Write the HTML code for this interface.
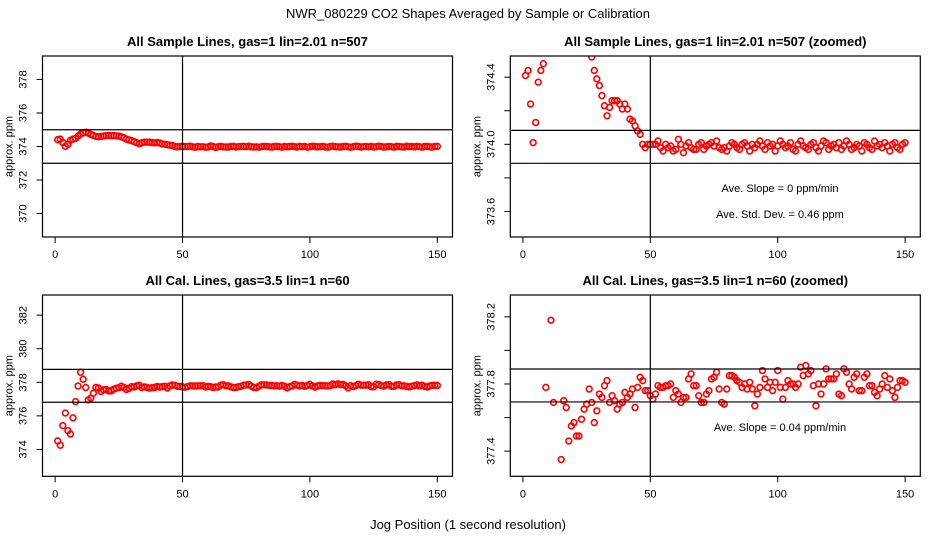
<!DOCTYPE html>
<html><head><meta charset="utf-8"><style>
html,body{margin:0;padding:0;background:#fff;width:936px;height:540px;overflow:hidden;}
svg{display:block;font-family:"Liberation Sans",sans-serif;}
</style></head><body>
<svg id="chart" width="936" height="540" viewBox="0 0 936 540" xmlns="http://www.w3.org/2000/svg">
<text x="468" y="18" text-anchor="middle" font-size="13">NWR_080229  CO2 Shapes Averaged by Sample or Calibration</text>
<text x="468" y="529" text-anchor="middle" font-size="13">Jog Position (1 second resolution)</text>
</svg>
<script>
const sampleValues = [374.41,374.44,374.24,374.01,374.13,374.37,374.44,374.48,374.62,374.75,374.82,374.85,374.80,374.72,374.66,374.60,374.58,374.60,374.62,374.65,374.66,374.65,374.65,374.64,374.62,374.58,374.52,374.44,374.39,374.35,374.29,374.23,374.17,374.22,374.26,374.26,374.26,374.24,374.21,374.24,374.21,374.15,374.14,374.11,374.08,374.06,374.00,373.98,374.00,374.00,
374.00,374.00,374.02,373.98,373.96,374.00,373.98,373.99,373.96,373.97,374.03,374.00,373.95,373.99,374.01,373.98,373.97,373.97,374.00,374.01,373.97,373.99,374.00,374.01,373.99,374.02,373.98,373.97,373.98,373.96,373.99,374.01,374.00,373.98,373.97,374.00,374.01,373.99,373.96,374.00,373.98,374.00,374.02,373.99,373.97,374.01,373.99,374.00,373.96,373.99,
374.02,374.00,373.98,373.99,374.01,373.97,373.96,374.00,374.02,373.99,373.98,373.97,374.00,374.01,373.98,373.96,373.99,374.02,374.01,373.97,373.99,374.00,373.98,374.01,373.97,373.99,374.02,374.00,373.97,373.98,374.00,373.99,373.96,374.01,374.00,373.98,373.97,374.02,373.99,374.00,373.98,374.01,373.99,373.96,374.00,374.01,373.98,373.97,374.00,374.01];
const calValues = [374.51,374.25,375.42,376.17,375.12,374.92,375.88,376.85,377.78,378.60,378.18,377.69,376.95,377.05,377.35,377.70,377.66,377.46,377.55,377.57,377.49,377.49,377.59,377.65,377.68,377.77,377.69,377.57,377.64,377.74,377.72,377.79,377.82,377.69,377.73,377.70,377.65,377.68,377.69,377.75,377.72,377.74,377.77,377.66,377.78,377.84,377.82,377.76,377.76,377.73,
377.71,377.74,377.79,377.78,377.78,377.79,377.79,377.80,377.72,377.76,377.74,377.69,377.72,377.72,377.83,377.86,377.79,377.79,377.73,377.69,377.69,377.74,377.76,377.83,377.84,377.87,377.77,377.69,377.68,377.77,377.85,377.85,377.84,377.82,377.81,377.78,377.80,377.77,377.81,377.77,377.67,377.74,377.78,377.88,377.83,377.78,377.81,377.76,377.81,377.88,
377.78,377.71,377.78,377.82,377.80,377.80,377.78,377.80,377.90,377.85,377.91,377.86,377.88,377.79,377.67,377.80,377.74,377.80,377.89,377.83,377.83,377.83,377.86,377.74,377.73,377.89,377.87,377.80,377.77,377.84,377.86,377.76,377.76,377.84,377.86,377.79,377.79,377.75,377.73,377.77,377.80,377.85,377.78,377.83,377.76,377.72,377.78,377.82,377.82,377.81];
const xTickValues = [0,50,100,150];
const p1YTicks = [370,372,374,376,378];
const p2YTicks = [373.6,373.8,374.0,374.2,374.4];
const p2YLabels = ["373.6","","374.0","","374.4"];
const p3YTicks = [374,376,378,380,382];
const p4YTicks = [377.4,377.6,377.8,378.0,378.2];
const p4YLabels = ["377.4","","377.8","","378.2"];
const p1HLines = [373,375];
const p2HLines = [373.887,374.083];
const p3HLines = [376.81,378.77];
const p4HLines = [377.693,377.889];

const NS="http://www.w3.org/2000/svg";
const svg=document.getElementById('chart');
function mk(tag,attrs,parent){const e=document.createElementNS(NS,tag);for(const k in attrs)e.setAttribute(k,attrs[k]);(parent||svg).appendChild(e);return e;}

const panels=[
 {name:'sample-all',title:'All Sample Lines, gas=1 lin=2.01 n=507',x0:42.5,x1:452.5,y0:56,y1:237,ymin:368.6,ymax:379.4,data:sampleValues,yt:p1YTicks,yl:p1YTicks.map(String),hl:p1HLines,notes:[]},
 {name:'sample-zoomed',title:'All Sample Lines, gas=1 lin=2.01 n=507 (zoomed)',x0:510.3,x1:920.3,y0:56,y1:237,ymin:373.448,ymax:374.526,data:sampleValues,yt:p2YTicks,yl:p2YLabels,hl:p2HLines,notes:[['Ave. Slope =  0  ppm/min',192],['Ave. Std. Dev. =  0.46  ppm',218]]},
 {name:'cal-all',title:'All Cal. Lines, gas=3.5 lin=1 n=60',x0:42.5,x1:452.5,y0:295,y1:476.3,ymin:372.4,ymax:383.2,data:calValues,yt:p3YTicks,yl:p3YTicks.map(String),hl:p3HLines,notes:[]},
 {name:'cal-zoomed',title:'All Cal. Lines, gas=3.5 lin=1 n=60 (zoomed)',x0:510.3,x1:920.3,y0:295,y1:476.3,ymin:377.25,ymax:378.33,data:calValues,yt:p4YTicks,yl:p4YLabels,hl:p4HLines,notes:[['Ave. Slope =  0.04  ppm/min',431]]}
];
const XMIN=-4.96,XMAX=155.96;
panels.forEach((p,pi)=>{
  const g=mk('g',{});
  
  
  const sx=v=>p.x0+(v-XMIN)/(XMAX-XMIN)*(p.x1-p.x0);
  const sy=v=>p.y1-(v-p.ymin)/(p.ymax-p.ymin)*(p.y1-p.y0);
  const cid='clip'+pi;
  const cp=mk('clipPath',{id:cid},g);
  mk('rect',{x:p.x0,y:p.y0,width:p.x1-p.x0,height:p.y1-p.y0},cp);
  const t=mk('text',{x:(p.x0+p.x1)/2,y:p.y0-10,'text-anchor':'middle','font-size':'13','font-weight':'bold'},g);
  t.textContent=p.title;
  
  
  const yl=mk('text',{x:0,y:0,'text-anchor':'middle','font-size':'11',transform:`translate(${p.x0-30},${(p.y0+p.y1)/2}) rotate(-90)`},g);
  yl.textContent='approx. ppm';
  
  
  const pg=mk('g',{'clip-path':`url(#${cid})`},g);
  
  
  p.data.forEach((v,i)=>{
    const c=mk('circle',{cx:sx(i+1),cy:sy(v),r:2.9,fill:'none',stroke:'#ff0000','stroke-width':1.6},pg);
    
    
  });
  p.hl.forEach(v=>{
    const l=mk('line',{x1:p.x0,x2:p.x1,y1:sy(v),y2:sy(v),stroke:'#000','stroke-width':1.2},g);
    
    
  });
  const vl=mk('line',{x1:sx(50),x2:sx(50),y1:p.y0,y2:p.y1,stroke:'#000','stroke-width':1.2},g);
  
  
  const box=mk('rect',{x:p.x0,y:p.y0,width:p.x1-p.x0,height:p.y1-p.y0,fill:'none',stroke:'#000','stroke-width':1.2},g);
  
  
  xTickValues.forEach(v=>{
    mk('line',{x1:sx(v),x2:sx(v),y1:p.y1,y2:p.y1+6,stroke:'#000','stroke-width':1},g);
    const tx=mk('text',{x:sx(v),y:p.y1+21,'text-anchor':'middle','font-size':'11'},g);
    tx.textContent=String(v);
    
    
  });
  p.yt.forEach((v,i)=>{
    mk('line',{x1:p.x0-6,x2:p.x0,y1:sy(v),y2:sy(v),stroke:'#000','stroke-width':1},g);
    if(p.yl[i]){
      const ty=mk('text',{x:0,y:0,'text-anchor':'middle','font-size':'11',transform:`translate(${p.x0-16},${sy(v)}) rotate(-90)`},g);
      ty.textContent=p.yl[i];
      
      
    }
  });
  p.notes.forEach(n=>{
    const tn=mk('text',{x:780,y:n[1],'text-anchor':'middle','font-size':'11'},g);
    tn.textContent=n[0];
    
    
  });
});
</script>
</body></html>
